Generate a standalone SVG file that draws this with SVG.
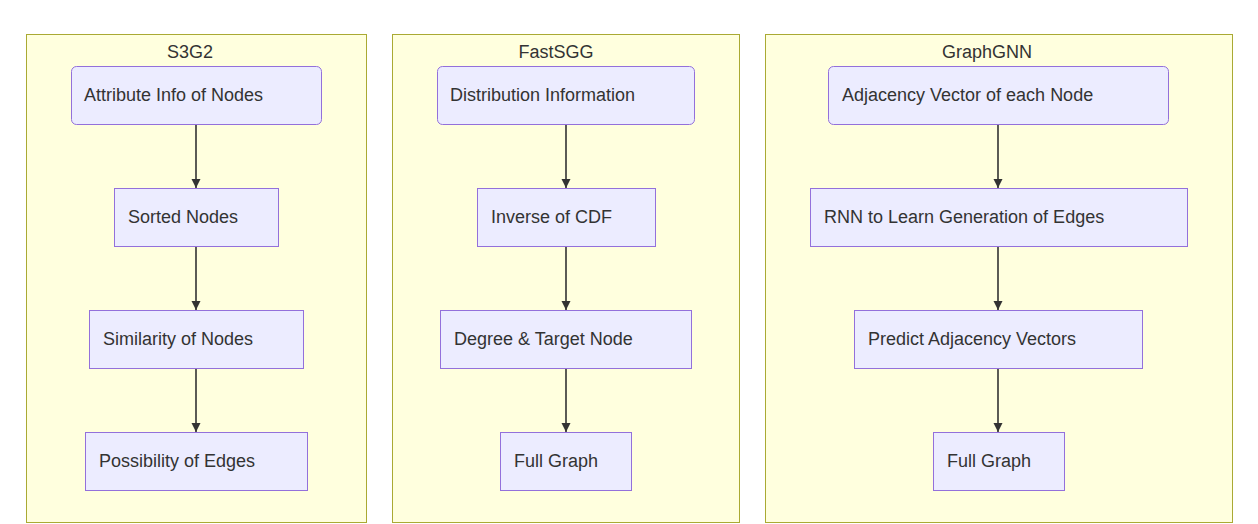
<svg xmlns="http://www.w3.org/2000/svg" width="1258" height="524" viewBox="0 0 1258 524">
<style>
.cluster{fill:#ffffde;stroke:#aaaa33;stroke-width:1}
.node{fill:#ececff;stroke:#9370db;stroke-width:1}
.t{font-family:"Liberation Sans",Arial,Helvetica,sans-serif;font-size:18px;fill:#333}
.title{text-anchor:middle}
.edge{stroke:#333;stroke-width:1.6;fill:none}
</style>
<defs>
<marker id="arr" viewBox="0 0 10 10" refX="10" refY="5" markerWidth="9" markerHeight="9" markerUnits="userSpaceOnUse" orient="auto" overflow="visible">
<path d="M0,0 L10,5 L0,10 z" fill="#333"/>
</marker>
</defs>
<rect width="1258" height="524" fill="#ffffff"/>
<g id="cluster-S3G2">
<rect class="cluster" x="26.5" y="34.5" width="340" height="488"/>
<text class="t title" x="190" y="58">S3G2</text>
</g>
<g id="cluster-FastSGG">
<rect class="cluster" x="392.5" y="34.5" width="347" height="488"/>
<text class="t title" x="556" y="58">FastSGG</text>
</g>
<g id="cluster-GraphGNN">
<rect class="cluster" x="765.5" y="34.5" width="467" height="488"/>
<text class="t title" x="987" y="58">GraphGNN</text>
</g>
<g id="connectors">
<line class="edge" x1="196" y1="124" x2="196" y2="188" marker-end="url(#arr)"/>
<line class="edge" x1="196" y1="246" x2="196" y2="310" marker-end="url(#arr)"/>
<line class="edge" x1="196" y1="368" x2="196" y2="432" marker-end="url(#arr)"/>
<line class="edge" x1="566" y1="124" x2="566" y2="188" marker-end="url(#arr)"/>
<line class="edge" x1="566" y1="246" x2="566" y2="310" marker-end="url(#arr)"/>
<line class="edge" x1="566" y1="368" x2="566" y2="432" marker-end="url(#arr)"/>
<line class="edge" x1="998" y1="124" x2="998" y2="188" marker-end="url(#arr)"/>
<line class="edge" x1="998" y1="246" x2="998" y2="310" marker-end="url(#arr)"/>
<line class="edge" x1="998" y1="368" x2="998" y2="432" marker-end="url(#arr)"/>
</g>
<g id="n-attr">
<rect class="node" x="71.5" y="66.5" width="250" height="58" rx="5"/>
<text class="t" x="84" y="101">Attribute Info of Nodes</text>
</g>
<g id="n-sorted">
<rect class="node" x="114.5" y="188.5" width="164" height="58"/>
<text class="t" x="128" y="223">Sorted Nodes</text>
</g>
<g id="n-sim">
<rect class="node" x="89.5" y="310.5" width="214" height="58"/>
<text class="t" x="103" y="345">Similarity of Nodes</text>
</g>
<g id="n-poss">
<rect class="node" x="85.5" y="432.5" width="222" height="58"/>
<text class="t" x="99" y="467">Possibility of Edges</text>
</g>
<g id="n-dist">
<rect class="node" x="437.5" y="66.5" width="257" height="58" rx="5"/>
<text class="t" x="450" y="101">Distribution Information</text>
</g>
<g id="n-inv">
<rect class="node" x="477.5" y="188.5" width="178" height="58"/>
<text class="t" x="491" y="223">Inverse of CDF</text>
</g>
<g id="n-deg">
<rect class="node" x="440.5" y="310.5" width="251" height="58"/>
<text class="t" x="454" y="345">Degree &amp; Target Node</text>
</g>
<g id="n-full1">
<rect class="node" x="500.5" y="432.5" width="131" height="58"/>
<text class="t" x="514" y="467">Full Graph</text>
</g>
<g id="n-adj">
<rect class="node" x="828.5" y="66.5" width="340" height="58" rx="5"/>
<text class="t" x="842" y="101">Adjacency Vector of each Node</text>
</g>
<g id="n-rnn">
<rect class="node" x="810.5" y="188.5" width="377" height="58"/>
<text class="t" x="824" y="223">RNN to Learn Generation of Edges</text>
</g>
<g id="n-pred">
<rect class="node" x="854.5" y="310.5" width="288" height="58"/>
<text class="t" x="868" y="345">Predict Adjacency Vectors</text>
</g>
<g id="n-full2">
<rect class="node" x="933.5" y="432.5" width="131" height="58"/>
<text class="t" x="947" y="467">Full Graph</text>
</g>
</svg>
